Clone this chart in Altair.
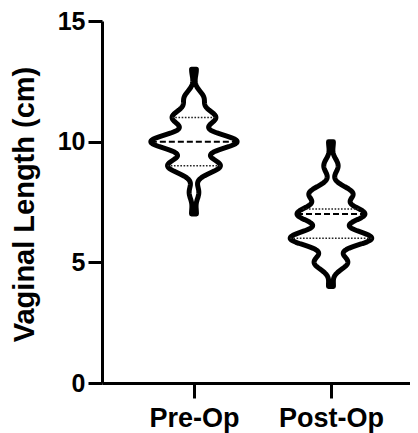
import altair as alt
import pandas as pd

# ---- data ----
groups = ["Pre-Op", "Post-Op"]
# distinct measured lengths (cm) and how many patients had each
pre_levels = [7.0, 7.9, 9.0, 10.0, 11.0, 11.8, 13.0]
pre_counts = [1, 2, 11, 18, 9, 4, 1]
post_levels = [4.0, 5.0, 6.0, 7.0, 7.85, 9.0, 10.0]
post_counts = [1, 7, 17, 14, 9, 3, 1]
y_ticks = [0, 5, 10, 15]

# ---- styling constants ----
BANDWIDTH = 0.3
HALF = 0.0131          # x-units per density unit (violin half-width)
FONT = "Liberation Sans"

rows = []
for gi, (g, lv, ct) in enumerate(zip(groups, [pre_levels, post_levels], [pre_counts, post_counts])):
    for v, c in zip(lv, ct):
        for _ in range(c):
            rows.append({"Group": g, "pos": gi + 1, "len": v})
df = pd.DataFrame(rows)
ext = [float(df["len"].min()), float(df["len"].max())]

label_expr = "[" + ",".join("'" + g + "'" for g in groups) + "][datum.value - 1]"

x_enc = alt.X(
    "xl:Q",
    scale=alt.Scale(domain=[0.3285, 2.577], nice=False, zero=False),
    axis=alt.Axis(
        values=[1, 2], labelExpr=label_expr, title=None, grid=False,
        tickSize=15, tickWidth=3, tickColor="black",
        domainWidth=3, domainColor="black",
        labelFont=FONT, labelFontSize=27, labelFontWeight="bold", labelColor="black",
        labelPadding=7, labelFlush=False, labelOverlap=False,
    ),
)
y_enc = alt.Y(
    "v:Q",
    scale=alt.Scale(domain=[0, 15], nice=False, zero=False),
    axis=alt.Axis(
        values=y_ticks, title="Vaginal Length (cm)", grid=False,
        tickSize=14, tickWidth=3, tickColor="black",
        domainWidth=3, domainColor="black",
        labelFont=FONT, labelFontSize=25, labelFontWeight="bold", labelColor="black",
        labelPadding=3, labelFlush=False,
        titleFont=FONT, titleFontSize=29, titleFontWeight="bold", titleColor="black",
        titleAngle=270, titleBaseline="bottom", titleAlign="center",
        titleX=-63, titleY=183,
    ),
)

base = (
    alt.Chart(df)
    .transform_joinaggregate(
        lo="min(len)", hi="max(len)", q1="q1(len)", med="median(len)", q3="q3(len)",
        groupby=["Group", "pos"],
    )
    .transform_density(
        "len",
        groupby=["Group", "pos", "lo", "hi", "q1", "med", "q3"],
        extent=ext, steps=900, bandwidth=BANDWIDTH, counts=True,
        as_=["v", "d"],
    )
    .transform_filter("datum.v >= datum.lo - 1e-6 && datum.v <= datum.hi + 1e-6")
    .transform_calculate(
        xl=f"datum.pos - datum.d * {HALF}",
        xr=f"datum.pos + datum.d * {HALF}",
    )
)

violins = base.mark_area(
    orient="horizontal", fill="white", stroke="black", strokeWidth=5,
    strokeJoin="round",
).encode(y=y_enc, x=x_enc, x2="xr:Q", detail="Group:N")

stats = (
    base.transform_fold(["q1", "med", "q3"], as_=["stat", "qv"])
    .transform_calculate(diff="abs(datum.v - datum.qv)")
    .transform_joinaggregate(mind="min(diff)", groupby=["Group", "stat"])
    .transform_filter("datum.diff == datum.mind")
)

median_lines = stats.transform_filter("datum.stat == 'med'").mark_rule(
    stroke="black", strokeWidth=2, strokeDash=[6, 3]
).encode(y=y_enc, x=x_enc, x2="xr:Q")

quart_lines = stats.transform_filter("datum.stat != 'med'").mark_rule(
    stroke="#222222", strokeWidth=1.6, strokeDash=[1.6, 1.6]
).encode(y=y_enc, x=x_enc, x2="xr:Q")

chart = (
    alt.layer(violins, median_lines, quart_lines)
    .properties(
        width=308, height=362,
        padding={"left": 94, "top": 13, "right": 0, "bottom": 50},
        autosize=alt.AutoSizeParams(type="none"),
        background="white",
    )
    .configure_view(strokeWidth=0)
)

chart.save("out.html", embed_options={"renderer": "svg", "actions": False})
